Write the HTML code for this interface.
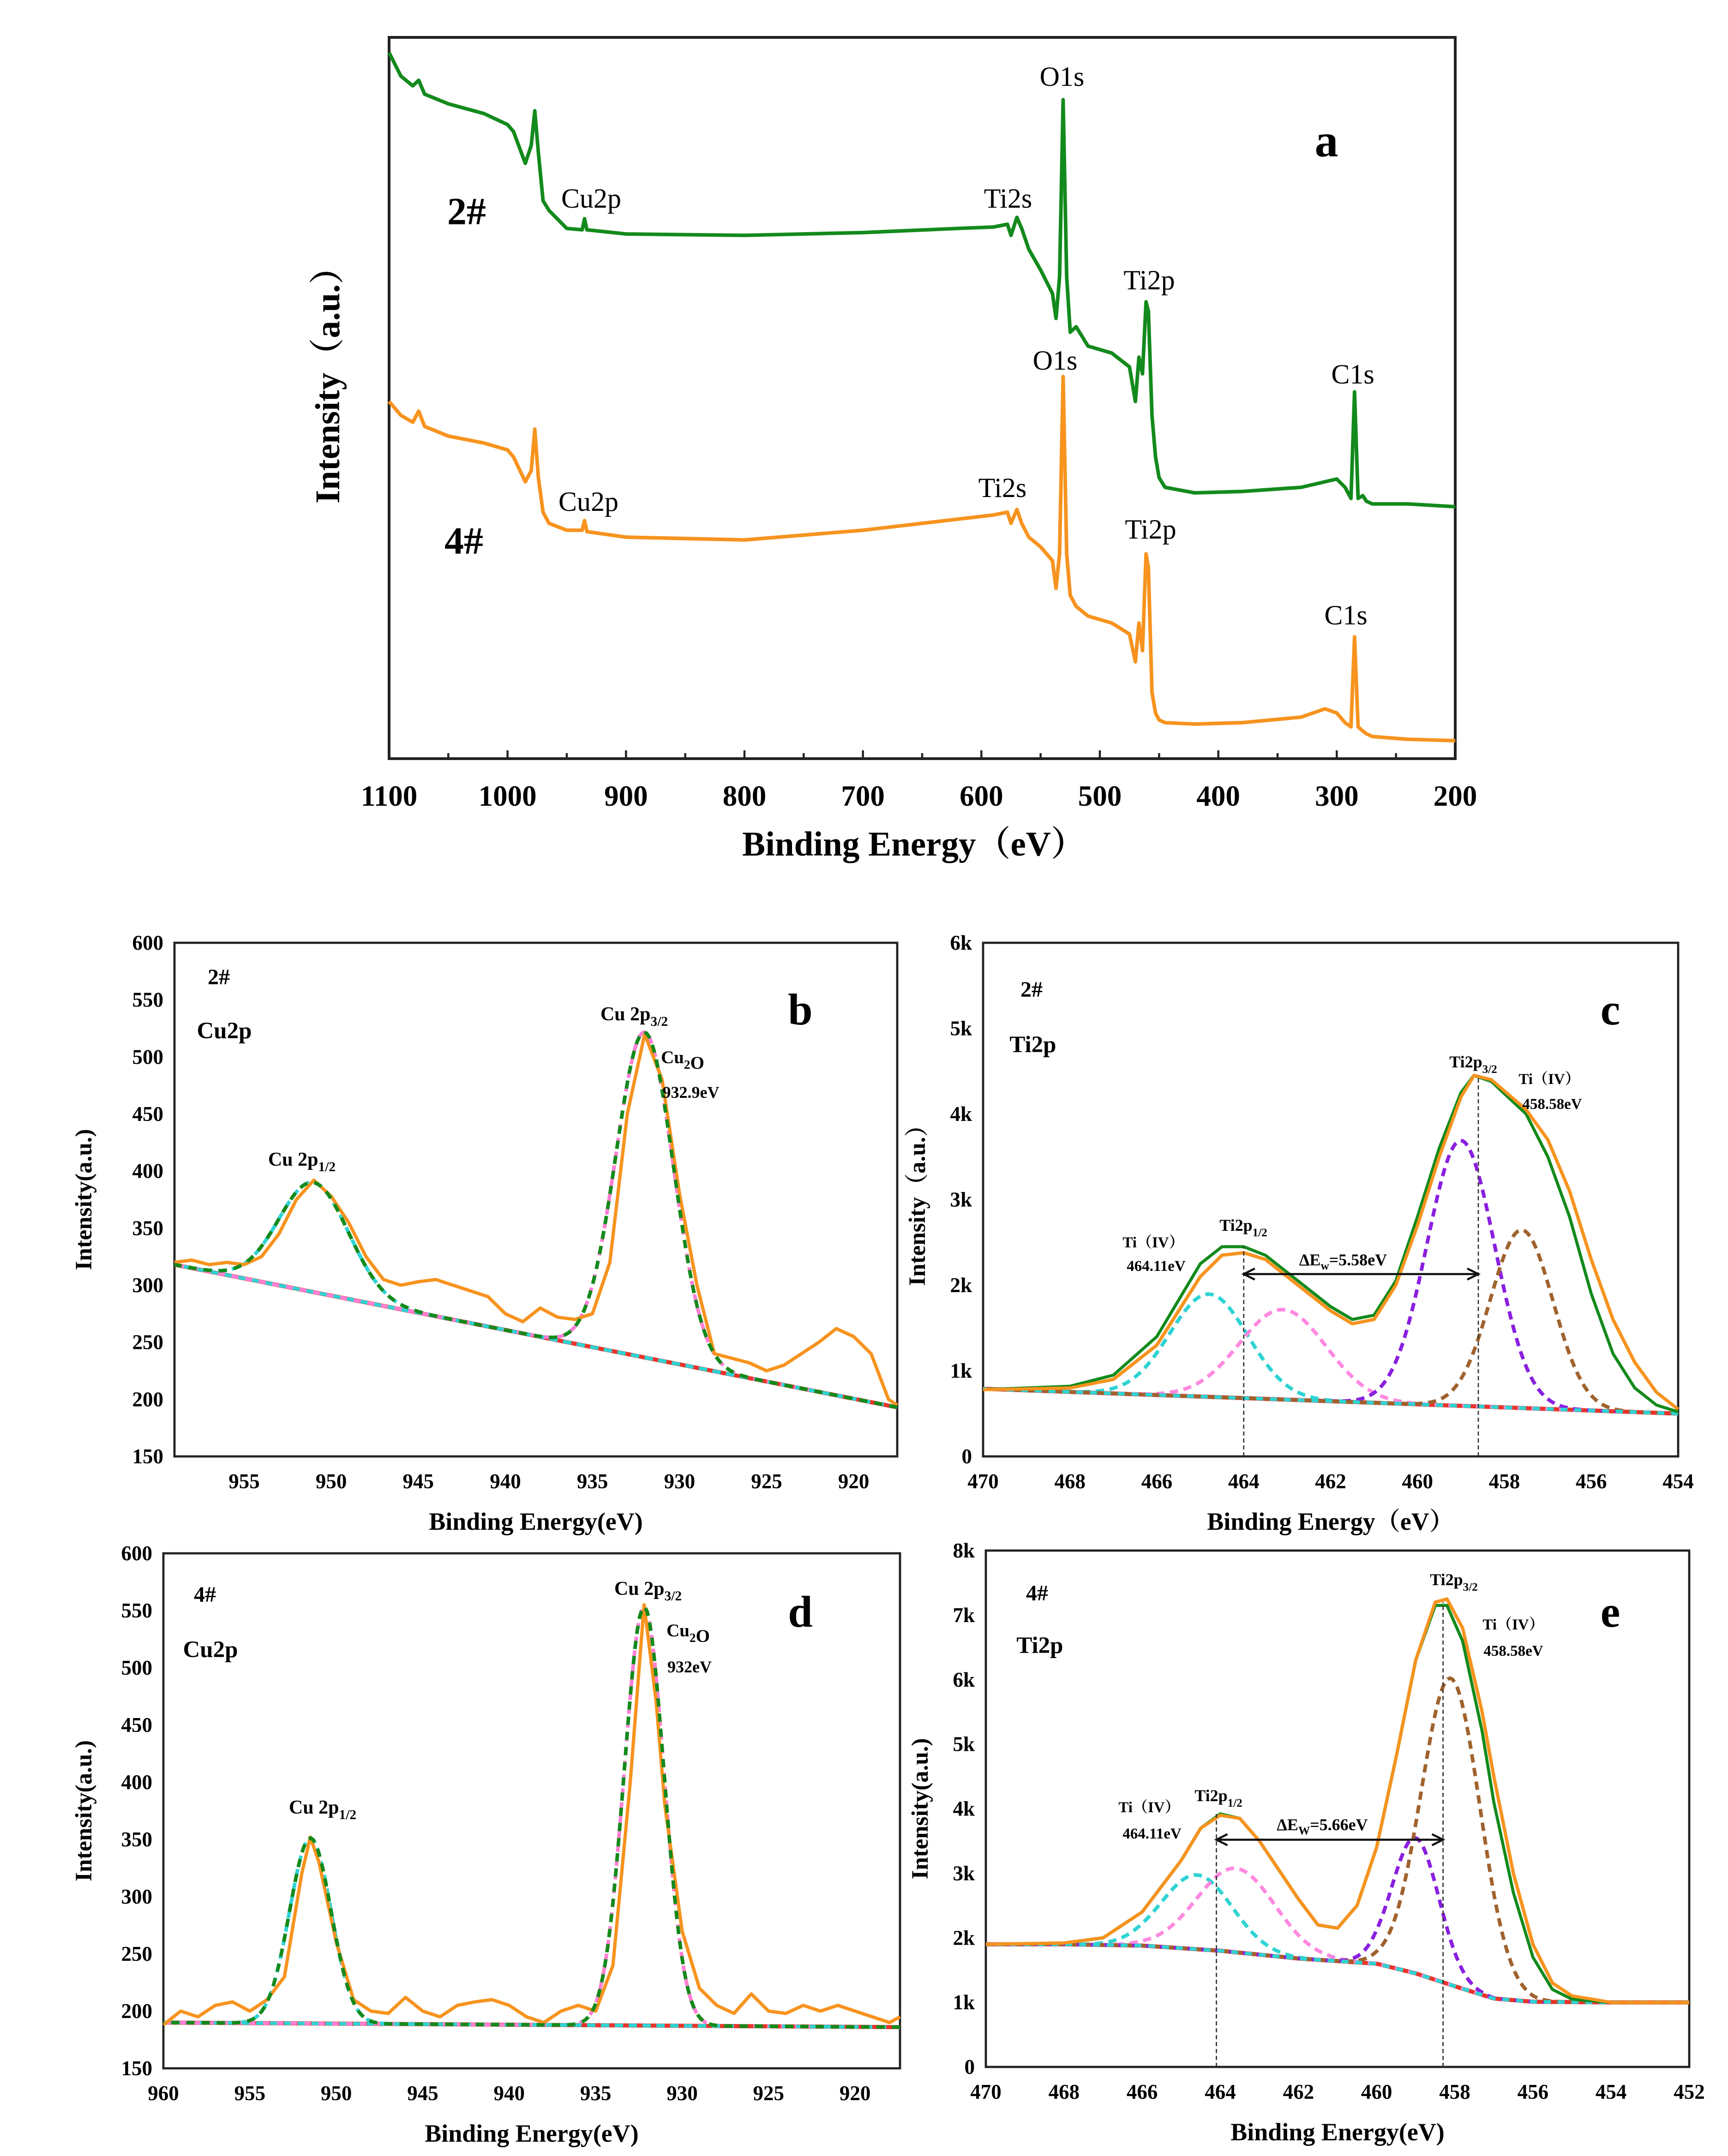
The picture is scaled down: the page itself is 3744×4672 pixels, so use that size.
<!DOCTYPE html>
<html><head><meta charset="utf-8">
<style>
html,body{margin:0;padding:0;background:#fff;}
svg{display:block;}
text{font-family:"Liberation Serif","Noto Serif CJK SC",serif;fill:#000;}
</style></head>
<body>
<svg id="fig" xmlns="http://www.w3.org/2000/svg" width="3744" height="4672" viewBox="0 0 1248 1557.33">
<rect width="1248" height="1557.33" fill="#fff"/>
</svg>
<script>
// ---------- Panel a: survey spectra ----------
const surveyE = [1100,1090,1080,1075,1070,1050,1020,1000,995,985,980,977,974,970,965,950,937,935,933,900,800,700,620,590,578,575,570,566,560,550,540,537,534,531,528,525,520,510,490,475,470,467,464,461,459,456,453,450,445,420,380,330,310,300,293,288,285,282,278,275,270,240,200];
const survey2 = [510,493,486,490,480,473,466,458,453,430,443,468,438,403,396,383,382,390,382,379,378,380,383,384,386,378,391,383,368,353,336,318,348,476,348,308,312,298,293,283,258,290,278,330,323,248,218,203,196,192,193,196,200,202,196,188,265,188,190,186,184,184,182];
const survey4 = [258,248,243,251,240,233,228,223,218,200,208,238,203,178,170,165,165,172,164,160,158,165,173,176,178,170,180,170,160,153,143,123,148,276,148,118,110,103,98,90,70,98,78,148,138,48,33,28,26,25,26,30,36,33,26,23,88,23,20,18,16,14,13];
const surveyTicks = [1100,1000,900,800,700,600,500,400,300,200];

// ---------- Panel b: Cu2p 2# ----------
const bE = [959,958,957,956,955,954,953,952,951,950,949,948,947,946,945,944,943,942,941,940,939,938,937,936,935,934,933,932,931,930,929,928,927,926,925,924,923,922,921,920,919,918,917.5];
const bRaw = [320,322,318,320,318,325,345,375,392,378,355,325,305,300,303,305,300,295,290,275,268,280,272,270,275,320,450,520,480,380,300,240,236,232,225,230,240,250,262,255,240,200,195];
const bBase = [318,193];
const bPeaks = [[951,96,2.0],[932,285,1.65]];
const bTicksY = [150,200,250,300,350,400,450,500,550,600];
const bTicksX = [955,950,945,940,935,930,925,920];

// ---------- Panel c: Ti2p 2# ----------
const cE = [470,468,467,466,465,464.5,464,463.5,463,462,461.5,461,460.5,460,459.5,459,458.7,458.3,457.5,457,456.5,456,455.5,455,454.5,454];
const cRaw = [780,800,900,1300,2100,2350,2380,2300,2100,1700,1550,1600,2000,2700,3500,4200,4450,4400,4050,3700,3100,2300,1600,1100,750,550];
const cFit = [780,820,950,1400,2250,2450,2450,2350,2150,1750,1600,1650,2050,2800,3600,4250,4450,4380,4000,3500,2800,1900,1200,800,600,520];
const cBase = [790,500];
const cPeaks = [[464.8,1200,0.9],[463.1,1050,1.0],[459.0,3100,0.78],[457.6,2080,0.72]];
const cTicksY = [0,1000,2000,3000,4000,5000,6000];
const cTickLbl = ["0","1k","2k","3k","4k","5k","6k"];
const cTicksX = [470,468,466,464,462,460,458,456,454];

// ---------- Panel d: Cu2p 4# ----------
const dE = [960,959,958,957,956,955,954,953,952,951.5,951,950,949,948,947,946,945,944,943,942,941,940,939,938,937,936,935,934,933,932.2,931.5,931,930,929,928,927,926,925,924,923,922,921,920,919,918,917.4];
const dRaw = [188,200,195,205,208,200,210,230,320,352,330,260,210,200,198,212,200,195,205,208,210,205,195,190,200,205,200,240,400,555,470,380,270,220,205,198,215,200,198,205,200,205,200,195,190,195];
const dBase = [190,186];
const dPeaks = [[951.5,162,1.2],[932.2,366,1.15]];
const dTicksY = [150,200,250,300,350,400,450,500,550,600];
const dTicksX = [960,955,950,945,940,935,930,925,920];

// ---------- Panel e: Ti2p 4# ----------
const eE = [470,468,467,466,465,464.5,464,463.5,463,462,461.5,461,460.5,460,459.5,459,458.5,458.2,457.8,457.3,457,456.5,456,455.5,455,454,452];
const eRaw = [1900,1920,2000,2400,3200,3700,3900,3850,3500,2600,2200,2150,2500,3400,4800,6300,7200,7250,6800,5500,4500,3000,1900,1300,1100,1000,1000];
const eFit = [1900,1920,2000,2400,3200,3700,3920,3850,3500,2600,2200,2150,2500,3400,4800,6300,7150,7150,6600,5200,4100,2700,1700,1200,1050,1000,1000];
const eBaseE = [470,468,466,464,463,462,461,460,459,458,457,456,454,452];
const eBaseV = [1900,1900,1880,1800,1740,1680,1640,1600,1450,1250,1060,1010,1000,1000];
const ePeaks = [[464.6,1150,0.9],[463.6,1300,1.0],[459.0,2100,0.6],[458.1,4750,0.75]];
const eTicksY = [0,1000,2000,3000,4000,5000,6000,7000,8000];
const eTickLbl = ["0","1k","2k","3k","4k","5k","6k","7k","8k"];
const eTicksX = [470,468,466,464,462,460,458,456,454,452];

const NS = "http://www.w3.org/2000/svg";
const svg = document.getElementById('fig');
function mk(tag, attrs, parent){
  const el = document.createElementNS(NS, tag);
  for (const k in attrs) el.setAttribute(k, attrs[k]);
  (parent||svg).appendChild(el);
  return el;
}
function txt(s, x, y, size, opts, parent){
  opts = opts||{};
  const t = mk('text', {x:x, y:y, 'font-size':size, 'text-anchor':opts.anchor||'middle', 'font-weight':opts.bold?'bold':'normal'}, parent);
  if (opts.fill) t.setAttribute('fill', opts.fill);
  if (opts.rot) t.setAttribute('transform', 'rotate(-90 '+x+' '+y+')');
  t.textContent = s;
  return t;
}
function axes(x0,x1,y0,y1,xmin,xmax,ymin,ymax){
  return {
    sx: v => x0 + (v-xmin)/(xmax-xmin)*(x1-x0),
    sy: v => y1 - (v-ymin)/(ymax-ymin)*(y1-y0)
  };
}
function pathD(xs, ys, ax){
  let d = '';
  for (let i=0;i<xs.length;i++) d += (i?'L':'M') + ax.sx(xs[i]).toFixed(2) + ' ' + ax.sy(ys[i]).toFixed(2);
  return d;
}
function baseLin(b, xmin, xmax){ return x => b[0] + (x-xmin)/(xmax-xmin)*(b[1]-b[0]); }
function baseInterp(xs, vs){
  return x => {
    for (let i=0;i<xs.length-1;i++){
      if ((x<=xs[i] && x>=xs[i+1])) { const t=(x-xs[i])/(xs[i+1]-xs[i]); return vs[i]+t*(vs[i+1]-vs[i]); }
    }
    return x>xs[0]?vs[0]:vs[vs.length-1];
  };
}
function gauss(p, x){ return p[1]*Math.exp(-((x-p[0])**2)/(2*p[2]*p[2])); }
function curve(g, ax, f, xmin, xmax, attrs, name){
  const xs=[], ys=[];
  const n=300;
  for (let i=0;i<=n;i++){ const x = xmin + (xmax-xmin)*i/n; xs.push(x); ys.push(f(x)); }
  const p = mk('path', Object.assign({d:pathD(xs,ys,ax), fill:'none'}, attrs), g);
  
  
  return p;
}
function frame(g, x0,x1,y0,y1, w){
  const r = mk('rect', {x:x0, y:y0, width:x1-x0, height:y1-y0, fill:'none', stroke:'#222', 'stroke-width':w}, g);
  
  
}

// ===== Panel a =====
(function(){
  const g = mk('g', {});
  
  
  const x0=281,x1=1051,y0=27,y1=548;
  const ax = axes(x0,x1,y0,y1,1100,200,0,521);
  frame(g,x0,x1,y0,y1,2);
  for (let v=1100; v>=200; v-=50){
    const t = mk('line', {x1:ax.sx(v), x2:ax.sx(v), y1:y1, y2:y1-(v%100===0?6:4), stroke:'#222','stroke-width':1.5}, g);
    
    
  }
  surveyTicks.forEach(v => {
    const t = txt(String(v), ax.sx(v), 582, 21, {bold:true}, g);
    
    
  });
  const s2 = mk('path', {d:pathD(surveyE, survey2, ax), fill:'none', stroke:'#138a1c','stroke-width':2.6,'stroke-linejoin':'round'}, g);
  
  
  const s4 = mk('path', {d:pathD(surveyE, survey4, ax), fill:'none', stroke:'#f7931e','stroke-width':2.6,'stroke-linejoin':'round'}, g);
  
  
  const labels = [["O1s",767,62],["Ti2s",728,150],["Cu2p",427,150],["Ti2p",830,209],["C1s",977,277],["O1s",762,267],["Ti2s",724,359],["Cu2p",425,369],["Ti2p",831,389],["C1s",972,451]];
  labels.forEach(l => { const t = txt(l[0], l[1], l[2], 20, {}, g);   });
  let t = txt("2#", 337, 162, 28, {bold:true, fill:'#138a1c'}, g);  
  t = txt("4#", 335, 400, 28, {bold:true, fill:'#f7931e'}, g);  
  t = txt("a", 958, 113, 34, {bold:true}, g);  
  t = txt("Binding Energy（eV）", 660, 618, 25, {bold:true}, g);  
  t = txt("Intensity（a.u.）", 245, 272, 25, {bold:true, rot:true}, g);  
})();

// ===== generic fit panel =====
function fitPanel(o){
  const g = mk('g', {});
  
  
  const ax = axes(o.x0,o.x1,o.y0,o.y1,o.xmin,o.xmax,o.ymin,o.ymax);
  frame(g,o.x0,o.x1,o.y0,o.y1,1.6);
  o.ticksY.forEach((v,i) => {
    const t = txt(o.lblY?o.lblY[i]:String(v), o.x0-8, ax.sy(v)+5, 15, {bold:true, anchor:'end'}, g);
     
  });
  o.ticksX.forEach(v => {
    const t = txt(String(v), ax.sx(v), o.y1+23, 15, {bold:true}, g);
     
  });
  const f = o.base;
  const lo = Math.min(o.xmin,o.xmax), hi = Math.max(o.xmin,o.xmax);
  curve(g, ax, f, lo, hi, {stroke:'#e8352b','stroke-width':3}, 'background-line');
  o.peaks.forEach((p,i) => {
    curve(g, ax, x => f(x)+gauss(p,x), lo, hi, {stroke:o.compColors[i],'stroke-width':2.6,'stroke-dasharray':'6 4'}, 'component-peak');
  });
  curve(g, ax, f, lo, hi, {stroke:'#2fd3d3','stroke-width':2.6,'stroke-dasharray':'5 5'}, 'background-dashed');
  const raw = mk('path', {d:pathD(o.E, o.raw, ax), fill:'none', stroke:'#f7931e','stroke-width':2.4,'stroke-linejoin':'round'}, g);
  
  
  if (o.fit) {
    const fp = mk('path', {d:pathD(o.E, o.fit, ax), fill:'none', stroke:'#138a1c','stroke-width':2.2,'stroke-linejoin':'round'}, g);
    
    
    const r2 = mk('path', {d:pathD(o.E, o.raw, ax), fill:'none', stroke:'#f7931e','stroke-width':2.2,'stroke-linejoin':'round'}, g);
    
    
  } else {
    curve(g, ax, x => f(x)+o.peaks.reduce((s,p)=>s+gauss(p,x),0), lo, hi, {stroke:'#138a1c','stroke-width':2.6,'stroke-dasharray':'6 5'}, 'fit-envelope');
  }
  if (o.vlines){
    o.vlines.forEach(v => {
      const l = mk('line', {x1:ax.sx(v[0]), x2:ax.sx(v[0]), y1:o.y1, y2:ax.sy(v[1]), stroke:'#333','stroke-width':0.9,'stroke-dasharray':'3 2'}, g);
      
      
    });
    const ay = ax.sy(o.arrowY), xa = ax.sx(o.vlines[0][0]), xb = ax.sx(o.vlines[1][0]);
    const a = mk('path', {d:`M${xa} ${ay}L${xb} ${ay}M${xa+8} ${ay-4}L${xa} ${ay}L${xa+8} ${ay+4}M${xb-8} ${ay-4}L${xb} ${ay}L${xb-8} ${ay+4}`, fill:'none', stroke:'#111','stroke-width':1.5}, g);
    
    
  }
  o.labels.forEach(l => {
    const t = mk('text', {x:l[1], y:l[2], 'font-size':l[3], 'text-anchor':'middle', 'font-weight':'bold'}, g);
    t.innerHTML = l[0];
    
    
  });
  let t = txt(o.ytitle, o.ytx, (o.y0+o.y1)/2, 17, {bold:true, rot:true}, g);
   
  t = txt(o.xtitle, (o.x0+o.x1)/2, o.y1+53, 18, {bold:true}, g);
   
}
const sub = (a,b)=>a+'<tspan font-size="0.7em" dy="4">'+b+'</tspan>';

fitPanel({name:'panel-b-cu2p-2', x0:126,x1:648,y0:681,y1:1052, xmin:959,xmax:917.5,ymin:150,ymax:600,
  ticksY:bTicksY, ticksX:bTicksX, base:baseLin(bBase,959,917.5), peaks:bPeaks, compColors:['#2fd3d3','#ff7fd4'],
  E:bE, raw:bRaw, ytitle:'Intensity(a.u.)', ytx:66, xtitle:'Binding Energy(eV)',
  labels:[['2#',158,711,16,'sample-label'],['Cu2p',162,750,17,'element-label'],['b',578,740,32,'panel-letter'],
    [sub('Cu 2p','3/2'),458,737,14],[sub('Cu','2')+'O',493,768,13],['932.9eV',499,793,12],[sub('Cu 2p','1/2'),218,842,14]]});

fitPanel({name:'panel-c-ti2p-2', x0:710,x1:1212,y0:681,y1:1052, xmin:470,xmax:454,ymin:0,ymax:6000,
  ticksY:cTicksY, lblY:cTickLbl, ticksX:cTicksX, base:baseLin(cBase,470,454), peaks:cPeaks,
  compColors:['#2fd3d3','#ff88e0','#8a1fe0','#a0622d'],
  E:cE, raw:cRaw, fit:cFit, ytitle:'Intensity（a.u.）', ytx:668, xtitle:'Binding Energy（eV）',
  vlines:[[464.0,2450],[458.6,4450]], arrowY:2130,
  labels:[['2#',745,720,16,'sample-label'],['Ti2p',746,760,17,'element-label'],['c',1163,740,32,'panel-letter'],
    [sub('Ti2p','3/2'),1064,771,12],['Ti（IV）',1119,783,11],['458.58eV',1121,801,11],
    [sub('Ti2p','1/2'),898,889,12],['Ti（IV）',833,901,11],['464.11eV',835,918,11],['ΔE'+'<tspan font-size="0.7em" dy="3">w</tspan><tspan dy="-3">=5.58eV</tspan>',970,914,12]]});

fitPanel({name:'panel-d-cu2p-4', x0:118,x1:650,y0:1122,y1:1494, xmin:960,xmax:917.4,ymin:150,ymax:600,
  ticksY:dTicksY, ticksX:dTicksX, base:baseLin(dBase,960,917.4), peaks:dPeaks, compColors:['#2fd3d3','#ff7fd4'],
  E:dE, raw:dRaw, ytitle:'Intensity(a.u.)', ytx:66, xtitle:'Binding Energy(eV)',
  labels:[['4#',148,1157,16,'sample-label'],['Cu2p',152,1197,17,'element-label'],['d',578,1175,32,'panel-letter'],
    [sub('Cu 2p','3/2'),468,1152,14],[sub('Cu','2')+'O',497,1182,13],['932eV',498,1208,12],[sub('Cu 2p','1/2'),233,1310,14]]});

fitPanel({name:'panel-e-ti2p-4', x0:712,x1:1220,y0:1120,y1:1493, xmin:470,xmax:452,ymin:0,ymax:8000,
  ticksY:eTicksY, lblY:eTickLbl, ticksX:eTicksX, base:baseInterp(eBaseE,eBaseV), peaks:ePeaks,
  compColors:['#2fd3d3','#ff88e0','#8a1fe0','#a0622d'],
  E:eE, raw:eRaw, fit:eFit, ytitle:'Intensity(a.u.)', ytx:670, xtitle:'Binding Energy(eV)',
  vlines:[[464.1,3920],[458.3,7200]], arrowY:3520,
  labels:[['4#',749,1156,16,'sample-label'],['Ti2p',751,1194,17,'element-label'],['e',1163,1175,32,'panel-letter'],
    [sub('Ti2p','3/2'),1050,1145,12],['Ti（IV）',1093,1177,11],['458.58eV',1093,1196,11],
    [sub('Ti2p','1/2'),880,1301,12],['Ti（IV）',830,1309,11],['464.11eV',832,1328,11],['ΔE'+'<tspan font-size="0.7em" dy="3">W</tspan><tspan dy="-3">=5.66eV</tspan>',955,1322,12]]});
</script>
</body></html>
